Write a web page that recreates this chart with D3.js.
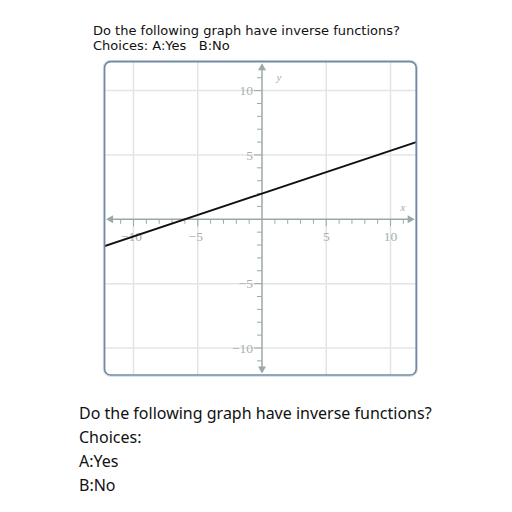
<!DOCTYPE html>
<html><head><meta charset="utf-8">
<script src="https://cdn.jsdelivr.net/npm/d3@7"></script>
<style>html,body{margin:0;padding:0;background:#fff;}</style>
</head><body>
<script>
const titleLines = ["Do the following graph have inverse functions?", "Choices: A:Yes   B:No"];
const bottomLines = ["Do the following graph have inverse functions?", "Choices:", "A:Yes", "B:No"];
const xDomain = [-12.25, 12];
const yDomain = [-12.1, 12.25];
const majorTicks = [-10, -5, 5, 10];
const minorTicks = d3.range(-12, 13);
const lineData = [[-12.3, -2.1], [12, 6]];

const W = 512, H = 512;
const svg = d3.select("body").append("svg").attr("width", W).attr("height", H);

const x = d3.scaleLinear().domain([-10, 10]).range([133.5, 390.5]);
const y = d3.scaleLinear().domain([-10, 10]).range([348, 90.6]);

const fx0 = x(xDomain[0]), fx1 = x(xDomain[1]);
const fy0 = y(yDomain[1]), fy1 = y(yDomain[0]);

// titles
svg.selectAll("text.title").data(titleLines).enter().append("text")
  .attr("x", 93).attr("y", (d, i) => 35 + i * 15)
  .attr("font-family", "DejaVu Sans").attr("font-size", 13).attr("fill", "#111")
  .attr("xml:space", "preserve").style("white-space", "pre")
  .text(d => d);

const defs = svg.append("defs");
defs.append("clipPath").attr("id", "clip").append("rect")
  .attr("x", fx0).attr("y", fy0).attr("width", fx1 - fx0).attr("height", fy1 - fy0).attr("rx", 6);

const plot = svg.append("g").attr("clip-path", "url(#clip)");

// grid
plot.selectAll("line.gx").data(majorTicks).enter().append("line")
  .attr("x1", d => x(d)).attr("x2", d => x(d)).attr("y1", fy0).attr("y2", fy1)
  .attr("stroke", "#e4e4e4").attr("stroke-width", 1.5);
plot.selectAll("line.gy").data(majorTicks).enter().append("line")
  .attr("y1", d => y(d)).attr("y2", d => y(d)).attr("x1", fx0).attr("x2", fx1)
  .attr("stroke", "#e4e4e4").attr("stroke-width", 1.5);

const axisColor = "#9ca8a8";
// axes
plot.append("line").attr("x1", fx0 + 3).attr("x2", fx1 - 3).attr("y1", y(0)).attr("y2", y(0))
  .attr("stroke", axisColor).attr("stroke-width", 1.5);
plot.append("line").attr("y1", fy0 + 3).attr("y2", fy1 - 3).attr("x1", x(0)).attr("x2", x(0))
  .attr("stroke", axisColor).attr("stroke-width", 1.5);

// ticks
const tx = minorTicks.filter(d => d !== 0 && x(d) > fx0 + 10 && x(d) < fx1 - 10);
plot.selectAll("line.tx").data(tx).enter().append("line")
  .attr("x1", d => x(d)).attr("x2", d => x(d))
  .attr("y1", y(0)).attr("y2", d => y(0) + (d % 5 === 0 ? 7 : 4.5))
  .attr("stroke", axisColor).attr("stroke-width", 1);
const ty = minorTicks.filter(d => d !== 0 && y(d) > fy0 + 10 && y(d) < fy1 - 10);
plot.selectAll("line.ty").data(ty).enter().append("line")
  .attr("y1", d => y(d)).attr("y2", d => y(d))
  .attr("x1", x(0)).attr("x2", d => x(0) - (d % 5 === 0 ? 8 : 5))
  .attr("stroke", axisColor).attr("stroke-width", 1);

// arrows
const a = 7, hw = 4;
const arrows = [
  [[fx0 + 1.5, y(0)], [fx0 + 1.5 + a, y(0) - hw], [fx0 + 1.5 + a, y(0) + hw]],
  [[fx1 - 1.5, y(0)], [fx1 - 1.5 - a, y(0) - hw], [fx1 - 1.5 - a, y(0) + hw]],
  [[x(0), fy0 + 1.5], [x(0) - hw, fy0 + 1.5 + a], [x(0) + hw, fy0 + 1.5 + a]],
  [[x(0), fy1 - 1.5], [x(0) - hw, fy1 - 1.5 - a], [x(0) + hw, fy1 - 1.5 - a]]
];
plot.selectAll("path.arrow").data(arrows).enter().append("path")
  .attr("d", d => "M" + d.map(p => p.join(",")).join("L") + "Z")
  .attr("fill", axisColor);

// tick labels
const labelFont = "Liberation Serif";
plot.selectAll("text.lx").data(majorTicks).enter().append("text")
  .attr("x", d => x(d) + (d < 0 ? -2 : 0)).attr("y", y(0) + 22)
  .attr("text-anchor", "middle").attr("font-family", labelFont).attr("font-size", 13.5)
  .attr("fill", "#a6b0b0").text(d => d < 0 ? "\u2212" + (-d) : d);
plot.selectAll("text.ly").data(majorTicks).enter().append("text")
  .attr("x", x(0) - 9).attr("y", d => y(d) + 4.8)
  .attr("text-anchor", "end").attr("font-family", labelFont).attr("font-size", 13.5)
  .attr("fill", "#a6b0b0").text(d => d < 0 ? "\u2212" + (-d) : d);
plot.append("text").attr("x", 403).attr("y", 211).attr("font-family", labelFont)
  .attr("font-style", "italic").attr("font-size", 11).attr("fill", "#a3adad").attr("text-anchor", "middle").text("x");
plot.append("text").attr("x", 279).attr("y", 81).attr("font-family", labelFont)
  .attr("font-style", "italic").attr("font-size", 11).attr("fill", "#a3adad").attr("text-anchor", "middle").text("y");

// function line
plot.append("path").datum(lineData)
  .attr("d", d3.line().x(d => x(d[0])).y(d => y(d[1])))
  .attr("fill", "none").attr("stroke", "#111").attr("stroke-width", 2);

// frame
svg.append("rect").attr("x", fx0 - 1.2).attr("y", fy0 - 1.2)
  .attr("width", fx1 - fx0 + 2.4).attr("height", fy1 - fy0 + 2.4).attr("rx", 7)
  .attr("fill", "none").attr("stroke", "#d2d6da").attr("stroke-width", 1);
svg.append("rect").attr("x", fx0).attr("y", fy0)
  .attr("width", fx1 - fx0).attr("height", fy1 - fy0).attr("rx", 6)
  .attr("fill", "none").attr("stroke", "#6e8aa6").attr("stroke-width", 1.6);

// bottom text
svg.selectAll("text.bottom").data(bottomLines).enter().append("text")
  .attr("x", 79).attr("y", (d, i) => 419 + i * 24)
  .attr("font-family", "Noto Sans").attr("font-size", 16).attr("fill", "#111")
  .text(d => d);
</script>
</body></html>
